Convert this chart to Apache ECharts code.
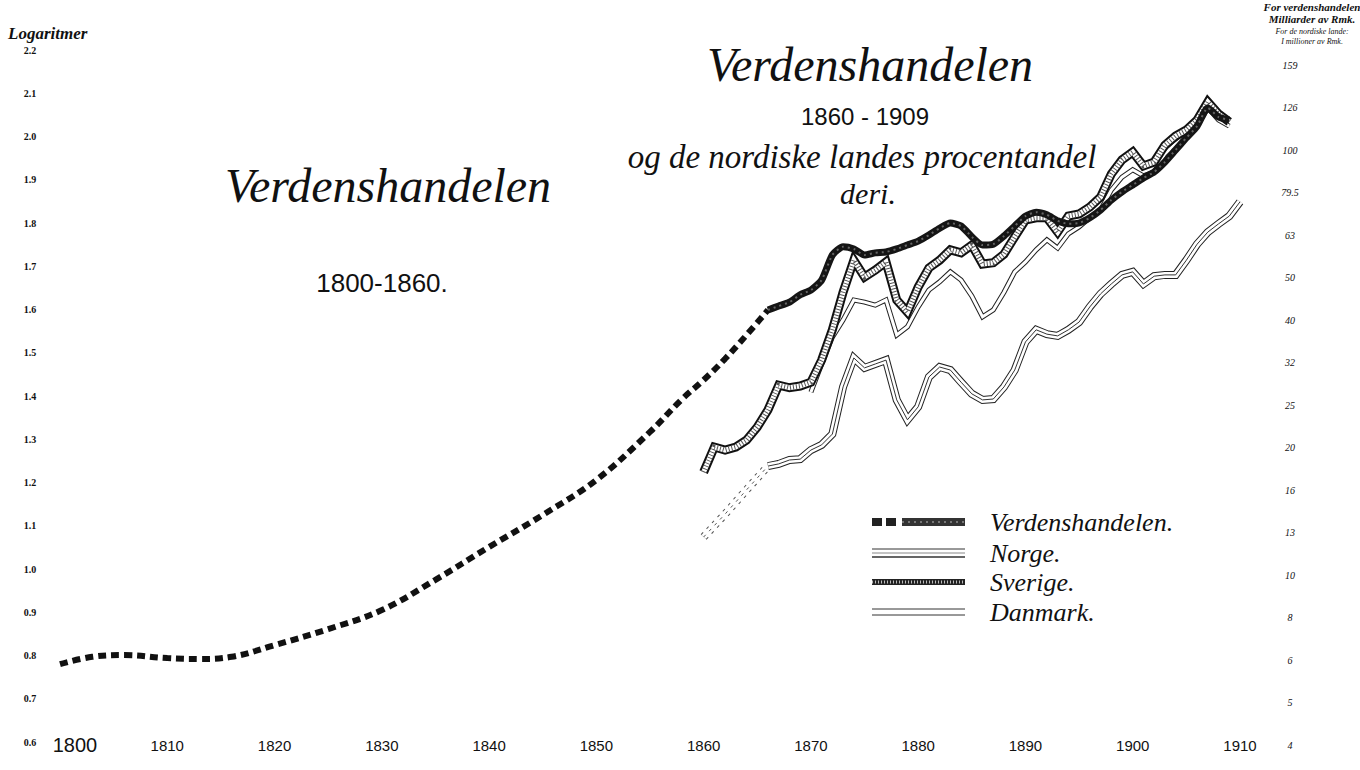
<!DOCTYPE html>
<html>
<head>
<meta charset="utf-8">
<title>Verdenshandelen 1800-1909</title>
<script src="https://cdn.jsdelivr.net/npm/echarts@6/dist/echarts.min.js"></script>
<style>
html, body { margin: 0; padding: 0; background: #fff; }
#main { width: 1360px; height: 770px; }
</style>
</head>
<body>
<div id="main"></div>
<script>
// Verdenshandelen 1800-1909 og de nordiske landes andel, logaritmisk skala
var chart = echarts.init(document.getElementById('main'), null, { renderer: 'svg' });

// hoyre akse: milliarder / millioner, en etikett per 0.1 i logaritme
var rightTicks = ['4', '5', '6', '8', '10', '13', '16', '20', '25', '32', '40', '50', '63', '79.5', '100', '126', '159'];

// verdenshandelen 1800-1866 (stiplet)
var yearsEarly = [1800, 1803, 1806, 1810, 1813, 1816, 1820, 1825, 1830, 1835, 1840, 1845, 1850, 1855, 1858, 1860, 1862, 1864, 1866];
var worldEarly = [0.780, 0.797, 0.801, 0.794, 0.792, 0.797, 0.824, 0.861, 0.905, 0.975, 1.051, 1.125, 1.206, 1.317, 1.393, 1.437, 1.486, 1.541, 1.599];

// verdenshandelen 1866-1909
var yearsWorld = [1866, 1867, 1868, 1869, 1870, 1871, 1872, 1873, 1874, 1875, 1876, 1877, 1878, 1879, 1880, 1881, 1882, 1883, 1884, 1885, 1886, 1887, 1888, 1889, 1890, 1891, 1892, 1893, 1894, 1895, 1896, 1897, 1898, 1899, 1900, 1901, 1902, 1903, 1904, 1905, 1906, 1907, 1908, 1909];
var worldLate = [1.599, 1.608, 1.617, 1.634, 1.645, 1.668, 1.726, 1.745, 1.740, 1.726, 1.731, 1.733, 1.740, 1.749, 1.758, 1.772, 1.788, 1.800, 1.793, 1.768, 1.749, 1.751, 1.770, 1.793, 1.816, 1.825, 1.819, 1.805, 1.798, 1.800, 1.812, 1.830, 1.853, 1.872, 1.888, 1.904, 1.918, 1.941, 1.969, 1.997, 2.024, 2.066, 2.045, 2.038];

// Sverige 1860-1909
var yearsSverige = [1860, 1861, 1862, 1863, 1864, 1865, 1866, 1867, 1868, 1869, 1870, 1871, 1872, 1873, 1874, 1875, 1876, 1877, 1878, 1879, 1880, 1881, 1882, 1883, 1884, 1885, 1886, 1887, 1888, 1889, 1890, 1891, 1892, 1893, 1894, 1895, 1896, 1897, 1898, 1899, 1900, 1901, 1902, 1903, 1904, 1905, 1906, 1907, 1908, 1909];
var sverige = [1.224, 1.282, 1.275, 1.282, 1.298, 1.328, 1.368, 1.425, 1.419, 1.423, 1.432, 1.483, 1.553, 1.640, 1.714, 1.675, 1.691, 1.710, 1.622, 1.594, 1.652, 1.696, 1.714, 1.738, 1.731, 1.749, 1.705, 1.708, 1.728, 1.768, 1.807, 1.812, 1.812, 1.779, 1.816, 1.821, 1.837, 1.860, 1.913, 1.946, 1.964, 1.932, 1.941, 1.980, 2.001, 2.015, 2.038, 2.080, 2.052, 2.034];

// Danmark 1870-1909
var yearsDanmark = [1870, 1871, 1872, 1873, 1874, 1875, 1876, 1877, 1878, 1879, 1880, 1881, 1882, 1883, 1884, 1885, 1886, 1887, 1888, 1889, 1890, 1891, 1892, 1893, 1894, 1895, 1896, 1897, 1898, 1899, 1900, 1901, 1902, 1903, 1904, 1905, 1906, 1907, 1908, 1909];
var danmark = [1.409, 1.474, 1.536, 1.576, 1.622, 1.617, 1.610, 1.622, 1.541, 1.560, 1.606, 1.645, 1.664, 1.687, 1.668, 1.631, 1.583, 1.599, 1.640, 1.687, 1.710, 1.738, 1.761, 1.742, 1.775, 1.791, 1.812, 1.830, 1.876, 1.906, 1.923, 1.909, 1.918, 1.960, 1.983, 2.001, 2.024, 2.066, 2.038, 2.024];

// Norge 1860-1866 (stiplet) og 1866-1910
var yearsNorgeEarly = [1860, 1862, 1864, 1866];
var norgeEarly = [1.074, 1.127, 1.183, 1.238];
var yearsNorge = [1866, 1867, 1868, 1869, 1870, 1871, 1872, 1873, 1874, 1875, 1876, 1877, 1878, 1879, 1880, 1881, 1882, 1883, 1884, 1885, 1886, 1887, 1888, 1889, 1890, 1891, 1892, 1893, 1894, 1895, 1896, 1897, 1898, 1899, 1900, 1901, 1902, 1903, 1904, 1905, 1906, 1907, 1908, 1909, 1910];
var norge = [1.238, 1.243, 1.252, 1.254, 1.275, 1.287, 1.312, 1.421, 1.488, 1.465, 1.474, 1.483, 1.391, 1.345, 1.375, 1.444, 1.467, 1.460, 1.432, 1.405, 1.391, 1.393, 1.421, 1.460, 1.525, 1.553, 1.543, 1.539, 1.553, 1.571, 1.606, 1.636, 1.659, 1.680, 1.687, 1.659, 1.677, 1.680, 1.680, 1.714, 1.751, 1.779, 1.798, 1.816, 1.849];

var serif = 'Liberation Serif';
var sans = 'Liberation Sans';

function pairs(xs, ys) {
    return xs.map(function (x, i) { return [x, ys[i]]; });
}

function line(name, xs, ys, lineStyle, smooth) {
    return {
        name: name,
        type: 'line',
        xAxisIndex: 0,
        yAxisIndex: 0,
        data: pairs(xs, ys),
        showSymbol: false,
        symbol: 'none',
        smooth: smooth || false,
        silent: true,
        lineStyle: lineStyle
    };
}

function txt(text, x, y, size, family, opts) {
    opts = opts || {};
    return {
        type: 'text',
        x: x,
        y: y,
        silent: true,
        style: {
            text: text,
            fill: '#111',
            fontSize: size,
            fontFamily: family,
            fontStyle: opts.italic ? 'italic' : 'normal',
            fontWeight: opts.bold ? 'bold' : 'normal',
            align: opts.align || 'center',
            verticalAlign: 'middle'
        }
    };
}

function hline(x1, x2, y, color, width, dash) {
    return {
        type: 'line', silent: true,
        shape: { x1: x1, y1: y, x2: x2, y2: y },
        style: { stroke: color, lineWidth: width, lineDash: dash || null }
    };
}

function box(x, y, w, h, fill) {
    return { type: 'rect', silent: true, shape: { x: x, y: y, width: w, height: h }, style: { fill: fill } };
}

var option = {
    backgroundColor: '#fff',
    animation: false,
    grid: [
        { left: 60, right: 120, top: 50, bottom: 28 },
        { left: 60, right: 120, top: 65, bottom: 25 }
    ],
    xAxis: [{
        gridIndex: 0,
        type: 'value',
        min: 1800,
        max: 1910,
        interval: 10,
        axisLine: { show: false },
        axisTick: { show: false },
        splitLine: { show: false },
        axisLabel: {
            margin: 3,
            verticalAlign: 'middle',
            color: '#111',
            fontFamily: sans,
            fontSize: 15,
            formatter: function (v) {
                return v === 1800 ? '{big|1800}' : String(v);
            },
            rich: {
                big: { fontSize: 20, fontFamily: sans, color: '#111', padding: [0, 0, 0, 30] }
            }
        }
    }, {
        gridIndex: 1,
        type: 'value',
        show: false,
        min: 0,
        max: 1
    }],
    yAxis: [{
        gridIndex: 0,
        type: 'value',
        min: 0.6,
        max: 2.2,
        interval: 0.1,
        axisLine: { show: false },
        axisTick: { show: false },
        splitLine: { show: false },
        axisLabel: {
            margin: 30,
            align: 'center',
            color: '#111',
            fontFamily: serif,
            fontWeight: 'bold',
            fontSize: 10,
            formatter: function (v) {
                return (Math.round(v * 10) / 10).toFixed(1);
            }
        }
    }, {
        gridIndex: 1,
        type: 'value',
        position: 'right',
        min: 0,
        max: 16,
        interval: 1,
        axisLine: { show: false },
        axisTick: { show: false },
        splitLine: { show: false },
        axisLabel: {
            margin: 50,
            align: 'center',
            color: '#111',
            fontFamily: serif,
            fontStyle: 'italic',
            fontSize: 10,
            formatter: function (v) {
                return rightTicks[Math.round(v)] || '';
            }
        }
    }],
    series: [
        // Norge: tredobbelt tynn linje
        line('Norge', yearsNorgeEarly, norgeEarly, { color: '#555', width: 8, type: [3, 5], cap: 'butt' }),
        line('Norge', yearsNorgeEarly, norgeEarly, { color: '#fff', width: 6 }),
        line('Norge', yearsNorgeEarly, norgeEarly, { color: '#555', width: 1, type: [3, 5] }),
        line('Norge', yearsNorge, norge, { color: '#222', width: 8, join: 'miter' }),
        line('Norge', yearsNorge, norge, { color: '#fff', width: 6, join: 'miter' }),
        line('Norge', yearsNorge, norge, { color: '#333', width: 1, join: 'miter' }),
        // Danmark: dobbelt tynn linje
        line('Danmark', yearsDanmark, danmark, { color: '#222', width: 5, join: 'miter' }),
        line('Danmark', yearsDanmark, danmark, { color: '#fff', width: 3, join: 'miter' }),
        // Sverige: skravert bred linje
        line('Sverige', yearsSverige, sverige, { color: '#111', width: 9, join: 'miter' }),
        line('Sverige', yearsSverige, sverige, { color: '#fff', width: 5, join: 'miter' }),
        line('Sverige', yearsSverige, sverige, { color: '#555', width: 5, type: [1, 2], join: 'miter' }),
        // Verdenshandelen
        line('Verdenshandelen', yearsEarly, worldEarly, { color: '#111', width: 6, type: [8, 5], cap: 'butt' }, 0.4),
        line('Verdenshandelen', yearsWorld, worldLate, { color: '#151515', width: 7 }, 0.2),
        line('Verdenshandelen', yearsWorld, worldLate, { color: '#666', width: 2, type: [2, 4] }, 0.2)
    ],
    graphic: [
        txt('Logaritmer', 8, 33, 17, serif, { italic: true, bold: true, align: 'left' }),
        txt('Verdenshandelen', 388, 185, 48, serif, { italic: true }),
        txt('1800-1860.', 382, 283, 26, sans),
        txt('Verdenshandelen', 870, 64, 48, serif, { italic: true }),
        txt('1860 - 1909', 865, 116, 24, sans),
        txt('og de nordiske landes procentandel', 862, 157, 33, serif, { italic: true }),
        txt('deri.', 868, 193, 30, serif, { italic: true }),
        txt('For verdenshandelen', 1312, 7, 11, serif, { italic: true, bold: true }),
        txt('Milliarder av Rmk.', 1312, 19, 11, serif, { italic: true, bold: true }),
        txt('For de nordiske lande:', 1312, 31, 8, serif, { italic: true }),
        txt('I millioner av Rmk.', 1312, 41, 8, serif, { italic: true }),
        // tegnforklaring
        box(872, 518, 10, 8, '#222'),
        box(886, 518, 10, 8, '#222'),
        box(902, 518, 63, 8, '#333'),
        hline(902, 965, 522, '#777', 2, [2, 4]),
        hline(872, 965, 549, '#333', 1),
        hline(872, 965, 553, '#888', 1),
        hline(872, 965, 557, '#333', 1.5),
        box(872, 579, 93, 6, '#222'),
        hline(872, 965, 582, '#bbb', 3, [1, 2]),
        hline(872, 965, 609, '#333', 1),
        hline(872, 965, 615, '#333', 1),
        txt('Verdenshandelen.', 990, 522, 26, serif, { italic: true, align: 'left' }),
        txt('Norge.', 990, 553, 26, serif, { italic: true, align: 'left' }),
        txt('Sverige.', 990, 582, 26, serif, { italic: true, align: 'left' }),
        txt('Danmark.', 990, 612, 26, serif, { italic: true, align: 'left' })
    ]
};

chart.setOption(option);
</script>
</body>
</html>
